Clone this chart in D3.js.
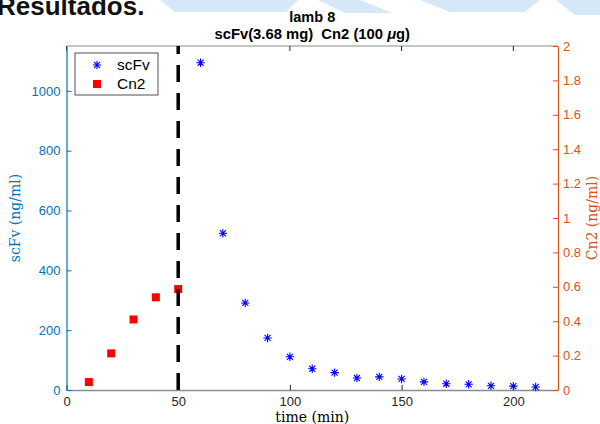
<!DOCTYPE html>
<html>
<head>
<meta charset="utf-8">
<script src="https://cdn.jsdelivr.net/npm/d3@7"></script>
<style>
  body { margin: 0; background: #fff; }
  svg { display: block; }
</style>
</head>
<body>
<div id="chart"></div>
<script>
// data
const scfvTime = [60, 70, 80, 90, 100, 110, 120, 130, 140, 150, 160, 170, 180, 190, 200, 210];
const scfvValues = [1094, 524, 291, 174, 111, 71, 58, 40, 44, 37, 27, 21, 19, 14, 13, 10];
const cn2Time = [10, 20, 30, 40, 50];
const cn2Values = [0.046, 0.213, 0.41, 0.539, 0.587];
const injectionTime = 50;
const xTicks = [0, 50, 100, 150, 200];
const leftTicks = [0, 200, 400, 600, 800, 1000];
const rightTicks = [0, 0.2, 0.4, 0.6, 0.8, 1, 1.2, 1.4, 1.6, 1.8, 2];

const width = 600;
const height = 424;
const margin = { top: 46, right: 42, bottom: 34, left: 66.5 };
const blue = '#0072BD';
const orange = '#D95319';
const sans = '"Liberation Sans", Arial, Helvetica, sans-serif';
const serif = '"DejaVu Serif", serif';

const svg = d3.select('#chart')
  .append('svg')
  .attr('width', width)
  .attr('height', height);

// faint slide background at the top
const wash = [
  'M160,0 L298,0 L286,12 L175,12 Z',
  'M318,0 L360,0 L392,13 L345,13 Z',
  'M420,0 L540,0 L525,12 L450,12 Z',
  'M556,0 L600,0 L600,15 L575,15 Z',
];
svg.selectAll('path.wash')
  .data(wash)
  .join('path')
  .attr('class', 'wash')
  .attr('d', (d) => d)
  .attr('fill', '#d6e7f7');

svg.append('text')
  .attr('x', -3)
  .attr('y', 15)
  .attr('font-family', sans)
  .attr('font-weight', 'bold')
  .attr('font-size', 26)
  .attr('fill', '#111')
  .text('Resultados.');

const x = d3.scaleLinear()
  .domain([0, 220])
  .range([margin.left, width - margin.right]);
const yLeft = d3.scaleLinear()
  .domain([0, 1150])
  .range([height - margin.bottom, margin.top]);
const yRight = d3.scaleLinear()
  .domain([0, 2])
  .range([height - margin.bottom, margin.top]);

// titles
const cx = (x.range()[0] + x.range()[1]) / 2;
svg.append('text')
  .attr('x', cx)
  .attr('y', 21.5)
  .attr('text-anchor', 'middle')
  .attr('font-family', sans)
  .attr('font-weight', 'bold')
  .attr('font-size', 14.5)
  .attr('fill', '#000')
  .text('lamb 8');
const t2 = svg.append('text')
  .attr('x', cx)
  .attr('y', 39)
  .attr('text-anchor', 'middle')
  .attr('font-family', sans)
  .attr('font-weight', 'bold')
  .attr('font-size', 14.8)
  .attr('fill', '#000')
  .attr('xml:space', 'preserve');
t2.append('tspan').text('scFv(3.68 mg)  Cn2 (100 ');
t2.append('tspan').attr('font-style', 'italic').text('μ');
t2.append('tspan').text('g)');

// top border with ticks
svg.append('line')
  .attr('x1', x(0)).attr('x2', x(220))
  .attr('y1', margin.top).attr('y2', margin.top)
  .attr('stroke', '#8c8c8c')
  .attr('stroke-width', 1);
svg.append('g')
  .selectAll('line')
  .data(xTicks)
  .join('line')
  .attr('x1', (d) => x(d)).attr('x2', (d) => x(d))
  .attr('y1', margin.top).attr('y2', margin.top + 5)
  .attr('stroke', '#262626');

// bottom axis
const gx = svg.append('g')
  .attr('transform', `translate(0,${height - margin.bottom})`)
  .call(d3.axisBottom(x).tickValues(xTicks).tickSize(-5).tickPadding(7).tickSizeOuter(0));
gx.select('.domain').attr('stroke', '#8c8c8c').attr('stroke-width', 1.5);
gx.selectAll('.tick line').attr('stroke', '#262626');
gx.selectAll('.tick text')
  .attr('font-family', sans)
  .attr('font-size', 13)
  .attr('fill', '#262626');

// Cn2 squares
svg.append('g')
  .selectAll('rect')
  .data(cn2Time.map((t, i) => ({ t, v: cn2Values[i] })))
  .join('rect')
  .attr('x', (d) => x(d.t) - 4)
  .attr('y', (d) => yRight(d.v) - 4)
  .attr('width', 8)
  .attr('height', 8)
  .attr('fill', '#ff0000');

// injection marker
svg.append('line')
  .attr('x1', x(injectionTime)).attr('x2', x(injectionTime))
  .attr('y1', yLeft(0)).attr('y2', margin.top)
  .attr('stroke', '#000')
  .attr('stroke-width', 3.5)
  .attr('stroke-dasharray', '17,11');

// scFv stars
const star = (r) => {
  const a = r * 0.72;
  return `M${-r},0L${r},0M0,${-r}L0,${r}M${-a},${-a}L${a},${a}M${-a},${a}L${a},${-a}`;
};
svg.append('g')
  .selectAll('path')
  .data(scfvTime.map((t, i) => ({ t, v: scfvValues[i] })))
  .join('path')
  .attr('transform', (d) => `translate(${x(d.t)},${yLeft(d.v)})`)
  .attr('d', star(4.2))
  .attr('fill', 'none')
  .attr('stroke', '#0000ff')
  .attr('stroke-width', 1.1);

// left axis
const gl = svg.append('g')
  .attr('transform', `translate(${margin.left},0)`)
  .call(d3.axisLeft(yLeft).tickValues(leftTicks).tickFormat(d3.format('d'))
    .tickSize(-5).tickPadding(6).tickSizeOuter(0));
gl.select('.domain').attr('stroke', blue).attr('stroke-width', 1.2);
gl.selectAll('.tick line').attr('stroke', blue);
gl.selectAll('.tick text')
  .attr('font-family', sans)
  .attr('font-size', 13)
  .attr('fill', blue);

// right axis
const gr = svg.append('g')
  .attr('transform', `translate(${width - margin.right},0)`)
  .call(d3.axisRight(yRight).tickValues(rightTicks).tickFormat((d) => String(d))
    .tickSize(-5).tickPadding(5).tickSizeOuter(0));
gr.select('.domain').attr('stroke', orange).attr('stroke-width', 1.2);
gr.selectAll('.tick line').attr('stroke', orange);
gr.selectAll('.tick text')
  .attr('font-family', sans)
  .attr('font-size', 13)
  .attr('fill', orange);

// axis labels
svg.append('text')
  .attr('transform', `translate(20,${(yLeft.range()[0] + yLeft.range()[1]) / 2}) rotate(-90)`)
  .attr('text-anchor', 'middle')
  .attr('font-family', serif)
  .attr('font-size', 14)
  .attr('fill', blue)
  .text('scFv (ng/ml)');
svg.append('text')
  .attr('transform', `translate(597,${(yRight.range()[0] + yRight.range()[1]) / 2}) rotate(-90)`)
  .attr('text-anchor', 'middle')
  .attr('font-family', serif)
  .attr('font-size', 14)
  .attr('fill', orange)
  .text('Cn2 (ng/ml)');
svg.append('text')
  .attr('x', cx)
  .attr('y', 421.5)
  .attr('text-anchor', 'middle')
  .attr('font-family', serif)
  .attr('font-size', 14)
  .attr('fill', '#000')
  .text('time (min)');

// legend
const legend = svg.append('g').attr('transform', 'translate(75,53)');
legend.append('rect')
  .attr('width', 83)
  .attr('height', 42)
  .attr('fill', '#fff')
  .attr('stroke', '#262626')
  .attr('stroke-width', 0.8);
legend.append('path')
  .attr('transform', 'translate(22,12)')
  .attr('d', star(4.2))
  .attr('fill', 'none')
  .attr('stroke', '#0000ff')
  .attr('stroke-width', 1.1);
legend.append('rect')
  .attr('x', 18).attr('y', 27)
  .attr('width', 8).attr('height', 8)
  .attr('fill', '#ff0000');
legend.selectAll('text')
  .data(['scFv', 'Cn2'])
  .join('text')
  .attr('x', 42)
  .attr('y', (d, i) => 17 + i * 19)
  .attr('font-family', sans)
  .attr('font-size', 15.5)
  .attr('fill', '#000')
  .text((d) => d);
</script>
</body>
</html>
